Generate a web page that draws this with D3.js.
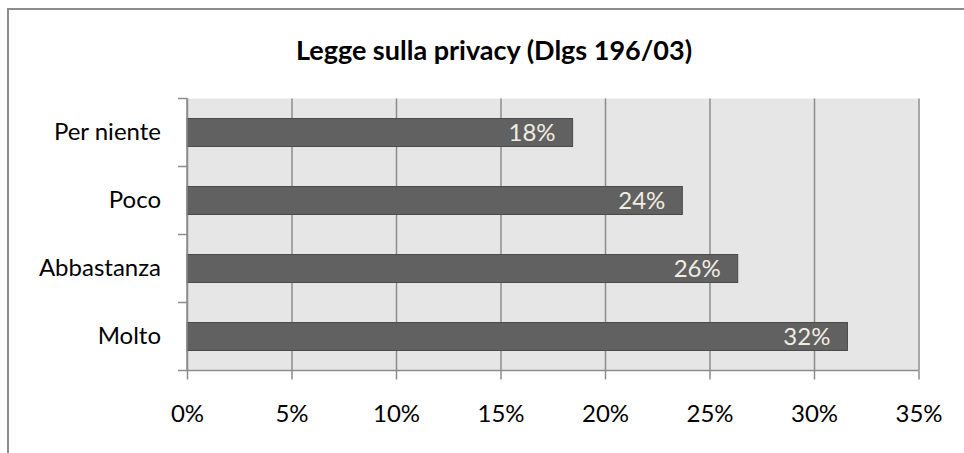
<!DOCTYPE html>
<html>
<head>
<meta charset="utf-8">
<script src="https://cdn.jsdelivr.net/npm/d3@7"></script>
<style>
  body { margin: 0; background: #fff; }
  svg { display: block; font-family: Lato, "Noto Sans", sans-serif; }
</style>
</head>
<body>
<div id="chart"></div>
<script>
// data
const title = 'Legge sulla privacy (Dlgs 196/03)';
const categories = ['Per niente', 'Poco', 'Abbastanza', 'Molto'];
const values = [0.1845, 0.237, 0.2635, 0.316];
const valueLabels = ['18%', '24%', '26%', '32%'];
const xTicks = [0, 0.05, 0.10, 0.15, 0.20, 0.25, 0.30, 0.35];

const W = 964, H = 453;
const margin = { top: 98.5, right: 45.5, bottom: 82.5, left: 187 };
const width = W - margin.left - margin.right,
    height = H - margin.top - margin.bottom;

const svg = d3.select('#chart').append('svg')
    .attr('width', W)
    .attr('height', H);

// outer frame (cut off on right and bottom)
svg.append('path')
    .attr('d', `M8,${H} V9 H${W}`)
    .attr('fill', 'none')
    .attr('stroke', '#8c8c8c')
    .attr('stroke-width', 2);

svg.append('text')
    .attr('x', 494)
    .attr('y', 60)
    .attr('text-anchor', 'middle')
    .attr('font-size', 27)
    .attr('font-weight', 'bold')
    .attr('fill', '#000')
    .text(title);

const g = svg.append('g')
    .attr('transform', 'translate(' + margin.left + ',' + margin.top + ')');

const x = d3.scaleLinear().domain([0, 0.35]).range([0, width]);
const y = d3.scaleBand().domain(categories).range([0, height]);

// plot background
g.append('rect')
    .attr('width', width)
    .attr('height', height)
    .attr('fill', '#e6e6e6');

// vertical grid lines
g.append('g')
    .attr('class', 'grid')
    .attr('transform', 'translate(0,' + height + ')')
    .call(d3.axisBottom(x).tickValues(xTicks).tickSize(-height).tickFormat(''))
    .call(s => s.select('.domain').remove())
    .call(s => s.selectAll('line').attr('stroke', '#8c8c8c').attr('stroke-width', 1.5));

// bars
const barH = 28;
g.selectAll('.bar')
    .data(values)
    .enter().append('rect')
    .attr('class', 'bar')
    .attr('x', 0)
    .attr('y', (d, i) => y(categories[i]) + (y.bandwidth() - barH) / 2)
    .attr('width', d => x(d))
    .attr('height', barH)
    .attr('fill', '#616161')
    .attr('stroke', '#4a4a4a')
    .attr('stroke-width', 1);

g.selectAll('.bar-label')
    .data(values)
    .enter().append('text')
    .attr('class', 'bar-label')
    .attr('x', d => x(d) - 17)
    .attr('y', (d, i) => y(categories[i]) + y.bandwidth() / 2)
    .attr('dy', '0.36em')
    .attr('text-anchor', 'end')
    .attr('font-size', 24)
    .attr('fill', '#f0ede2')
    .text((d, i) => valueLabels[i]);

// x axis
g.append('g')
    .attr('transform', 'translate(0,' + height + ')')
    .call(d3.axisBottom(x).tickValues(xTicks).tickSize(9).tickPadding(25)
        .tickFormat(d3.format('.0%')))
    .attr('font-family', null)
    .attr('font-size', 24)
    .call(s => s.select('.domain').attr('stroke', '#8c8c8c').attr('stroke-width', 1.5).attr('d', `M0,0H${width}`))
    .call(s => s.selectAll('line').attr('stroke', '#8c8c8c').attr('stroke-width', 1.5))
    .call(s => s.selectAll('text').attr('fill', '#000'));

// y axis
g.append('g')
    .call(d3.axisLeft(y).tickSize(0).tickPadding(26))
    .attr('font-family', null)
    .attr('font-size', 24)
    .call(s => s.select('.domain').attr('stroke', '#8c8c8c').attr('stroke-width', 1.5).attr('d', `M0,0V${height}`))
    .call(s => s.selectAll('text').attr('fill', '#000'));

// y ticks between categories
const bounds = categories.map(c => y(c)).concat([height]);
g.selectAll('.ytick')
    .data(bounds)
    .enter().append('line')
    .attr('x1', -9).attr('x2', 0)
    .attr('y1', d => d).attr('y2', d => d)
    .attr('stroke', '#8c8c8c')
    .attr('stroke-width', 1.5);
</script>
</body>
</html>
